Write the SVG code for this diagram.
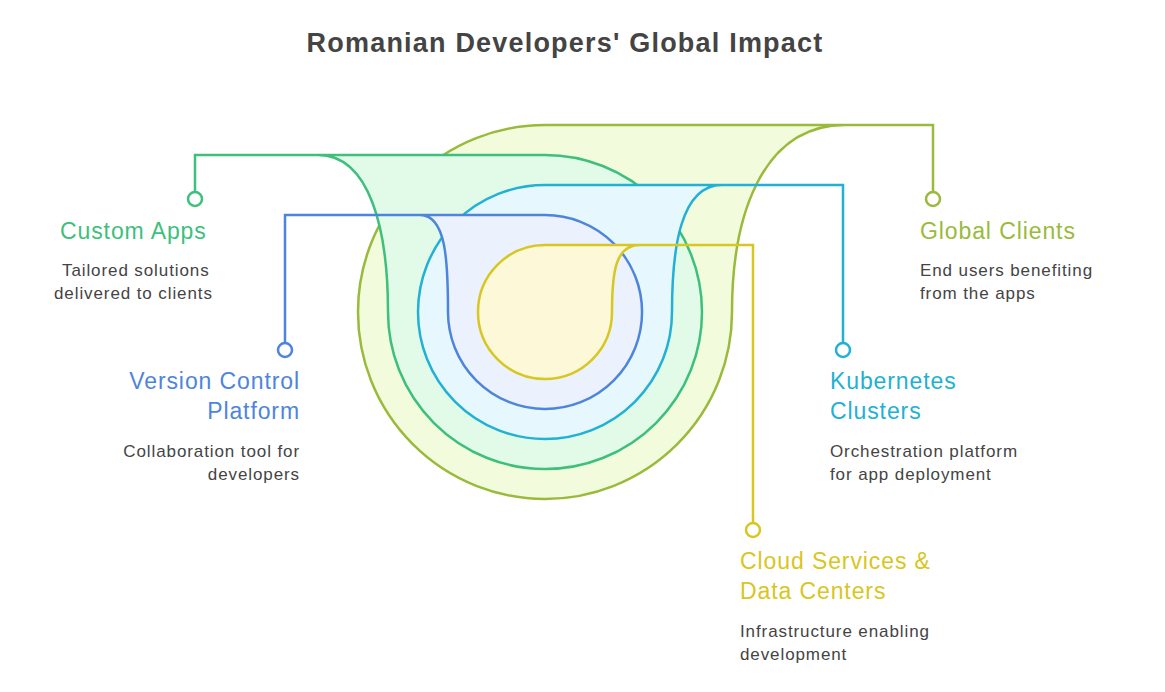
<svg xmlns="http://www.w3.org/2000/svg" width="1165" height="692" viewBox="0 0 1165 692">
<style>
.t{font-family:"Liberation Sans",Arial,sans-serif;font-size:23px;letter-spacing:0.9px}
.d{font-family:"Liberation Sans",Arial,sans-serif;font-size:17px;fill:#444;letter-spacing:0.9px}
.s{stroke-width:2.5;fill:none}
.dot{fill:#fff;stroke-width:2.5}
</style>
<rect width="1165" height="692" fill="#fff"/>
<text x="565" y="52" text-anchor="middle" style="font-family:'Liberation Sans',Arial,sans-serif;font-size:27px;font-weight:bold;fill:#444;letter-spacing:1.2px">Romanian Developers' Global Impact</text>
<g id="global-clients-shape"><path d="M545 125 A187 187 0 1 0 732 312 C732 220 760 125 845 125 Z" fill="#f2fcdc" stroke="#9aba3c" stroke-width="2.5"/></g>
<g id="custom-apps-shape"><path d="M545 155 A157 157 0 1 1 545 469 A157 157 0 0 1 388 312 C388 230 370 155 318 155 Z" fill="#e2fbe9" stroke="#3ebf7b" stroke-width="2.5"/></g>
<g id="kubernetes-shape"><path d="M545 185 A127 127 0 1 0 672 312 C672 250 680 185 722 185 Z" fill="#e6f8fd" stroke="#22b0d4" stroke-width="2.5"/></g>
<g id="vcp-shape"><path d="M545 215 A97 97 0 1 1 545 409 A97 97 0 0 1 448 312 C448 260 446 215 420 215 Z" fill="#ebf1fd" stroke="#4e85dc" stroke-width="2.5"/></g>
<g id="cloud-shape"><path d="M545 245 A67 67 0 1 0 612 312 C612 270 616 245 640 245 Z" fill="#fdf8d7" stroke="#d8c622" stroke-width="2.5"/></g>
<g id="connectors">
<polyline class="s" stroke="#3ebf7b" points="318,155 195,155 195,192"/>
<polyline class="s" stroke="#9aba3c" points="845,125 933,125 933,192"/>
<polyline class="s" stroke="#4e85dc" points="420,215 285,215 285,343"/>
<polyline class="s" stroke="#22b0d4" points="722,185 843,185 843,343"/>
<polyline class="s" stroke="#d8c622" points="640,245 753,245 753,523"/>
<circle class="dot" stroke="#3ebf7b" cx="195" cy="199" r="7"/>
<circle class="dot" stroke="#9aba3c" cx="933" cy="199" r="7"/>
<circle class="dot" stroke="#4e85dc" cx="285" cy="350" r="7"/>
<circle class="dot" stroke="#22b0d4" cx="843" cy="350" r="7"/>
<circle class="dot" stroke="#d8c622" cx="753" cy="530" r="7"/>
</g>
<g id="custom-apps"><text class="t" x="60" y="239" fill="#3ebf7b">Custom Apps</text>
<text class="d" x="62" y="276">Tailored solutions</text><text class="d" x="54" y="299">delivered to clients</text></g>
<g id="global-clients"><text class="t" x="920" y="239" fill="#9aba3c">Global Clients</text>
<text class="d" x="920" y="276">End users benefiting</text><text class="d" x="920" y="299">from the apps</text></g>
<g id="vcp"><text class="t" x="300" y="389" text-anchor="end" fill="#4e85dc">Version Control</text><text class="t" x="300" y="419" text-anchor="end" fill="#4e85dc">Platform</text>
<text class="d" x="300" y="457" text-anchor="end">Collaboration tool for</text><text class="d" x="300" y="480" text-anchor="end">developers</text></g>
<g id="kubernetes"><text class="t" x="830" y="389" fill="#22b0d4">Kubernetes</text><text class="t" x="830" y="419" fill="#22b0d4">Clusters</text>
<text class="d" x="830" y="457">Orchestration platform</text><text class="d" x="830" y="480">for app deployment</text></g>
<g id="cloud"><text class="t" x="740" y="569" fill="#d8c622">Cloud Services &amp;</text><text class="t" x="740" y="599" fill="#d8c622">Data Centers</text>
<text class="d" x="740" y="637">Infrastructure enabling</text><text class="d" x="740" y="660">development</text></g>
</svg>
